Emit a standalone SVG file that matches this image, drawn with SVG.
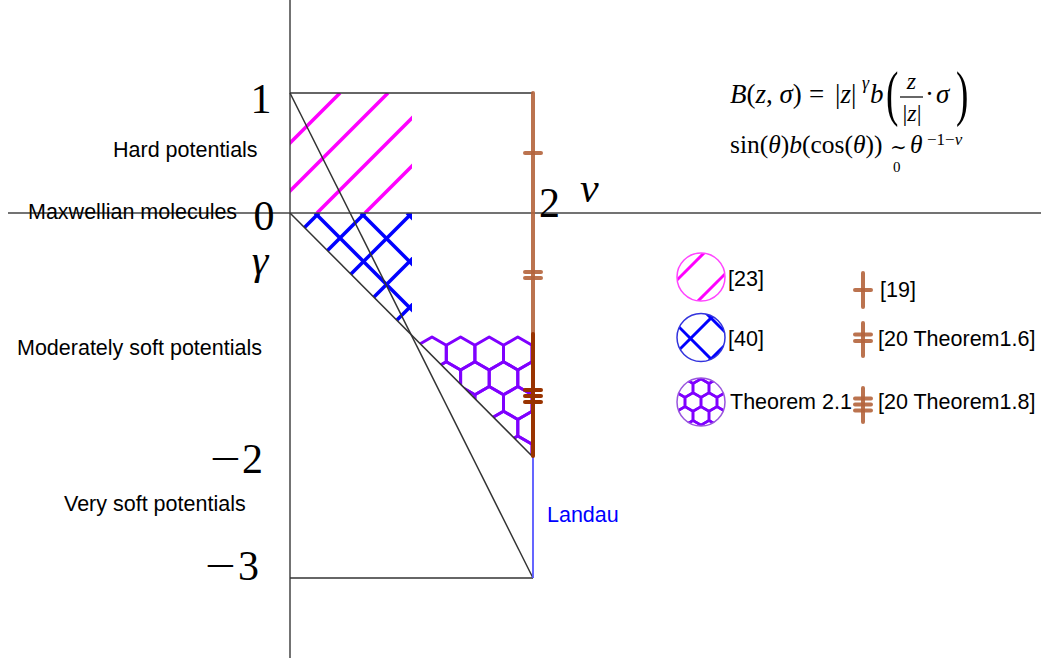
<svg xmlns="http://www.w3.org/2000/svg" xmlns:xlink="http://www.w3.org/1999/xlink" width="1041" height="658" viewBox="0 0 1041 658">
<style>
.ax{stroke:#444;stroke-width:1.5;fill:none}
.ln{stroke:#333;stroke-width:1.5;fill:none}
.mag{stroke:#ff00ff;stroke-width:3.5;fill:none}
.blu{stroke:#0000ff;stroke-width:3.5;fill:none}
.pur{stroke:#7f00ff;stroke-width:3;fill:none;stroke-linejoin:round}
.lpur{stroke:#7f00ff;stroke-width:2.6;fill:none;stroke-linejoin:round}
.br{stroke:#b4643c;stroke-opacity:0.9;stroke-width:4;fill:none;stroke-linecap:round}
.dbr{stroke:#993300;stroke-width:4;fill:none;stroke-linecap:round}
.lab{font-family:"Liberation Sans",Arial,sans-serif;font-size:21.5px;fill:#000}
.num{font-family:"Liberation Serif","DejaVu Serif",serif;font-size:42px;fill:#000}
.m{font-family:"Liberation Serif","DejaVu Serif",serif;fill:#000}
.i{font-style:italic}
</style>
<defs>
<clipPath id="cMag"><rect x="290" y="93" width="122" height="120"/></clipPath>
<clipPath id="cBlu"><polygon points="290,213 412,213 412,335"/></clipPath>
<clipPath id="cPur"><polygon points="412,335 533,335 533,457"/></clipPath>
<clipPath id="cL1"><circle cx="701" cy="277" r="24"/></clipPath>
<clipPath id="cL2"><circle cx="701" cy="337.5" r="24"/></clipPath>
<clipPath id="cL3"><circle cx="701" cy="402" r="24"/></clipPath>
<path id="hx" d="M0,-16.5 L14.3,-8.25 L14.3,8.25 L0,16.5 L-14.3,8.25 L-14.3,-8.25 Z"/>
<path id="hs" d="M0,-9.24 L8,-4.62 L8,4.62 L0,9.24 L-8,4.62 L-8,-4.62 Z"/>
</defs>

<g id="region-hard">
<g clip-path="url(#cMag)" class="mag">
<line x1="220" y1="213" x2="340" y2="93"/>
<line x1="268" y1="213" x2="388" y2="93"/>
<line x1="317" y1="213" x2="437" y2="93"/>
<line x1="365" y1="213" x2="485" y2="93"/>
<line x1="413" y1="213" x2="533" y2="93"/>
</g>
</g>

<g id="region-moderate">
<g clip-path="url(#cBlu)" class="blu">
<line x1="319" y1="213" x2="197" y2="335"/>
<line x1="365" y1="213" x2="243" y2="335"/>
<line x1="412" y1="213" x2="290" y2="335"/>
<line x1="458" y1="213" x2="336" y2="335"/>
<line x1="504" y1="213" x2="382" y2="335"/>
<line x1="315" y1="213" x2="437" y2="335"/>
<line x1="361" y1="213" x2="483" y2="335"/>
<line x1="407" y1="213" x2="529" y2="335"/>
</g>
</g>

<g id="region-theorem21">
<g clip-path="url(#cPur)" class="pur">
<use xlink:href="#hx" x="403.4" y="353.5"/><use xlink:href="#hx" x="432" y="353.5"/><use xlink:href="#hx" x="460.6" y="353.5"/><use xlink:href="#hx" x="489.2" y="353.5"/><use xlink:href="#hx" x="517.8" y="353.5"/><use xlink:href="#hx" x="546.4" y="353.5"/>
<use xlink:href="#hx" x="417.7" y="378.25"/><use xlink:href="#hx" x="446.3" y="378.25"/><use xlink:href="#hx" x="474.9" y="378.25"/><use xlink:href="#hx" x="503.5" y="378.25"/><use xlink:href="#hx" x="532.1" y="378.25"/>
<use xlink:href="#hx" x="432" y="403"/><use xlink:href="#hx" x="460.6" y="403"/><use xlink:href="#hx" x="489.2" y="403"/><use xlink:href="#hx" x="517.8" y="403"/><use xlink:href="#hx" x="546.4" y="403"/>
<use xlink:href="#hx" x="446.3" y="427.75"/><use xlink:href="#hx" x="474.9" y="427.75"/><use xlink:href="#hx" x="503.5" y="427.75"/><use xlink:href="#hx" x="532.1" y="427.75"/>
<use xlink:href="#hx" x="489.2" y="452.5"/><use xlink:href="#hx" x="517.8" y="452.5"/><use xlink:href="#hx" x="546.4" y="452.5"/>
</g>
</g>

<g id="connectors">
<line class="ax" x1="290" y1="0" x2="290" y2="658"/>
<line class="ax" x1="8" y1="213" x2="1041" y2="213"/>
<line class="ln" x1="290" y1="93" x2="533" y2="93"/>
<line class="ln" x1="290" y1="578" x2="533" y2="578"/>
<line class="ln" x1="290" y1="93" x2="533" y2="578"/>
<line class="ln" x1="290" y1="213" x2="533" y2="457"/>
<line x1="533" y1="457" x2="533" y2="578" stroke="#5555ff" stroke-width="1.8"/>
<line class="br" x1="533" y1="93" x2="533" y2="455" stroke-linecap="butt"/>
<line class="br" x1="525" y1="153" x2="541" y2="153" stroke-width="3.5"/>
<line class="br" x1="525" y1="272" x2="541" y2="272" stroke-width="3.5"/>
<line class="br" x1="525" y1="278" x2="541" y2="278" stroke-width="3.5"/>
<line class="dbr" x1="533" y1="334" x2="533" y2="456" stroke-linecap="butt"/>
<line class="dbr" x1="525" y1="390" x2="541" y2="390" stroke-width="3.5"/>
<line class="dbr" x1="525" y1="396" x2="541" y2="396" stroke-width="3.5"/>
<line class="dbr" x1="525" y1="402" x2="541" y2="402" stroke-width="3.5"/>
</g>

<g id="axis-labels">
<text class="num" x="261" y="113" text-anchor="middle">1</text>
<text class="num" x="264" y="230" text-anchor="middle">0</text>
<text class="num i" x="260" y="274" text-anchor="middle">γ</text>
<text class="num" transform="translate(210,473) scale(1.3,1)">−</text>
<text class="num" x="242" y="473">2</text>
<text class="num" transform="translate(205,580) scale(1.3,1)">−</text>
<text class="num" x="238" y="580">3</text>
<text class="num" x="539" y="217">2</text>
<text class="num i" x="580" y="202">ν</text>
</g>

<g id="region-labels">
<text class="lab" x="113" y="157">Hard potentials</text>
<text class="lab" x="28" y="219">Maxwellian molecules</text>
<text class="lab" x="17" y="355">Moderately soft potentials</text>
<text class="lab" x="64" y="511">Very soft potentials</text>
<text class="lab" x="547" y="522" style="fill:#0000ff">Landau</text>
</g>

<g id="formula">
<text class="m" x="730" y="103" font-size="27"><tspan class="i">B</tspan>(<tspan class="i">z</tspan>, <tspan class="i">σ</tspan>)</text>
<text class="m" x="809" y="103" font-size="27">=</text>
<text class="m" x="835" y="103" font-size="27">|<tspan class="i">z</tspan>|</text>
<text class="m i" x="862" y="89" font-size="18">γ</text>
<text class="m i" x="870" y="103" font-size="27">b</text>
<text class="m" font-size="62" transform="translate(886,114) scale(0.6,1)">(</text>
<text class="m i" x="911.5" y="89" font-size="24" text-anchor="middle">z</text>
<line x1="900" y1="97" x2="923" y2="97" stroke="#000" stroke-width="1.2"/>
<text class="m" x="912" y="121" font-size="24" text-anchor="middle">|<tspan class="i">z</tspan>|</text>
<text class="m" x="925" y="103" font-size="27">·</text>
<text class="m i" x="936" y="103" font-size="27">σ</text>
<text class="m" font-size="62" transform="translate(956,114) scale(0.6,1)">)</text>
<text class="m" x="730" y="153" font-size="25.5">sin(<tspan class="i">θ</tspan>)<tspan class="i">b</tspan>(cos(<tspan class="i">θ</tspan>))</text>
<text class="m" x="890" y="154" font-size="20">∼</text>
<text class="m" x="893" y="172" font-size="15">0</text>
<text class="m i" x="910" y="153" font-size="25.5">θ</text>
<text class="m" x="927" y="145" font-size="17">−1−<tspan class="i">ν</tspan></text>
</g>

<g id="legend-23">
<g clip-path="url(#cL1)" class="mag" style="stroke-width:3">
<line x1="667" y1="290" x2="727" y2="230"/>
<line x1="669" y1="330" x2="739" y2="260"/>
</g>
<circle cx="701" cy="277" r="24" fill="none" stroke="#ff44ff" stroke-width="1.5"/>
<text class="lab" x="728" y="286">[23]</text>
</g>

<g id="legend-40">
<g clip-path="url(#cL2)" class="blu" style="stroke-width:3">
<line x1="669" y1="360" x2="739" y2="290"/>
<line x1="690" y1="380" x2="760" y2="310"/>
<line x1="660" y1="308" x2="730" y2="378"/>
<line x1="680" y1="287" x2="750" y2="357"/>
</g>
<circle cx="701" cy="337.5" r="24" fill="none" stroke="#3333dd" stroke-width="1.5"/>
<text class="lab" x="728" y="346">[40]</text>
</g>

<g id="legend-thm21">
<g clip-path="url(#cL3)" class="lpur">
<use xlink:href="#hs" x="677" y="374.3"/><use xlink:href="#hs" x="693" y="374.3"/><use xlink:href="#hs" x="709" y="374.3"/><use xlink:href="#hs" x="725" y="374.3"/>
<use xlink:href="#hs" x="669" y="388.1"/><use xlink:href="#hs" x="685" y="388.1"/><use xlink:href="#hs" x="701" y="388.1"/><use xlink:href="#hs" x="717" y="388.1"/><use xlink:href="#hs" x="733" y="388.1"/>
<use xlink:href="#hs" x="677" y="402"/><use xlink:href="#hs" x="693" y="402"/><use xlink:href="#hs" x="709" y="402"/><use xlink:href="#hs" x="725" y="402"/>
<use xlink:href="#hs" x="669" y="415.9"/><use xlink:href="#hs" x="685" y="415.9"/><use xlink:href="#hs" x="701" y="415.9"/><use xlink:href="#hs" x="717" y="415.9"/><use xlink:href="#hs" x="733" y="415.9"/>
<use xlink:href="#hs" x="677" y="429.7"/><use xlink:href="#hs" x="693" y="429.7"/><use xlink:href="#hs" x="709" y="429.7"/><use xlink:href="#hs" x="725" y="429.7"/>
</g>
<circle cx="701" cy="402" r="24" fill="none" stroke="#9955dd" stroke-width="1.5"/>
<text class="lab" x="730" y="409">Theorem 2.1</text>
</g>

<g id="legend-19">
<line class="br" x1="863" y1="273" x2="863" y2="307"/>
<line class="br" x1="855" y1="290" x2="871" y2="290" stroke-width="3.5"/>
<text class="lab" x="880" y="297">[19]</text>
</g>

<g id="legend-20-16">
<line class="br" x1="863" y1="323" x2="863" y2="356"/>
<line class="br" x1="855" y1="334.5" x2="871" y2="334.5" stroke-width="3.5"/>
<line class="br" x1="855" y1="341" x2="871" y2="341" stroke-width="3.5"/>
<text class="lab" x="878" y="346">[20 Theorem1.6]</text>
</g>

<g id="legend-20-18">
<line class="br" x1="863" y1="388" x2="863" y2="422"/>
<line class="br" x1="855" y1="398.5" x2="871" y2="398.5" stroke-width="3.5"/>
<line class="br" x1="855" y1="404.5" x2="871" y2="404.5" stroke-width="3.5"/>
<line class="br" x1="855" y1="410.5" x2="871" y2="410.5" stroke-width="3.5"/>
<text class="lab" x="878" y="409">[20 Theorem1.8]</text>
</g>
</svg>
